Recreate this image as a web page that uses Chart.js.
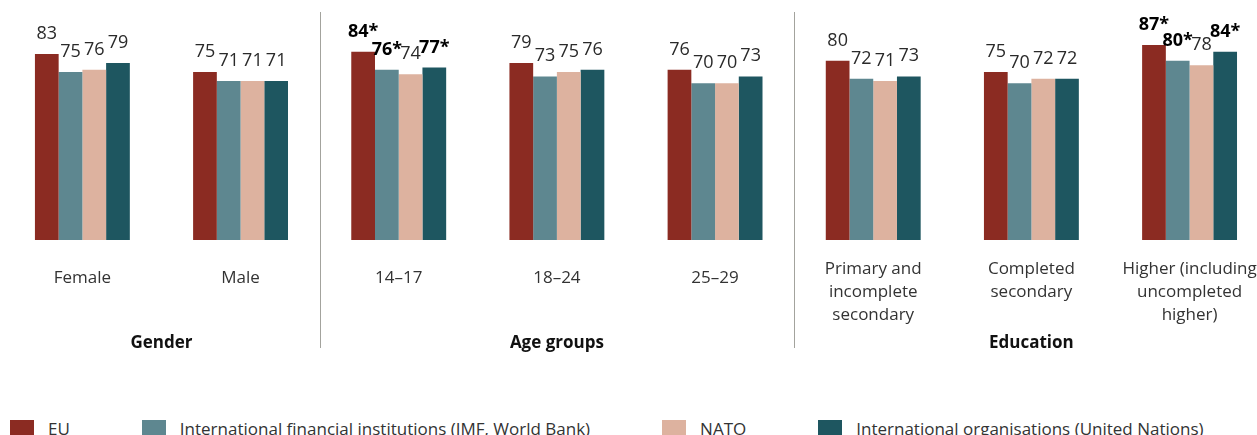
<!DOCTYPE html>
<html>
<head>
<meta charset="utf-8">
<script src="https://cdn.jsdelivr.net/npm/chart.js@4/dist/chart.umd.min.js"></script>
<style>
  html, body { margin: 0; padding: 0; background: #fff; overflow: hidden; }
  #wrap { position: relative; width: 1275px; height: 435px; }
  #legend { position: absolute; left: 10px; top: 417px; display: flex; white-space: nowrap;
            font: 17px "Open Sans", sans-serif; color: #333; }
  #legend .item { display: flex; align-items: center; margin-right: 72px; }
  #legend .box { width: 24px; height: 18px; margin-right: 14px; }
</style>
</head>
<body>
<div id="wrap">
  <canvas id="myChart" width="1275" height="405"></canvas>
  <div id="legend"></div>
</div>
<script>
// categories (multi-line labels as arrays)
const categories = [
  "Female", "Male",
  "14–17", "18–24", "25–29",
  ["Primary and", "incomplete", "secondary"],
  ["Completed", "secondary"],
  ["Higher (including", "uncompleted", "higher)"]
];
const groupNames = ["Gender", "Age groups", "Education"];
const groupSizes = [2, 3, 3];

const seriesNames = [
  "EU",
  "International financial institutions (IMF, World Bank)",
  "NATO",
  "International organisations (United Nations)"
];
const euValues   = [83, 75, 84, 79, 76, 80, 75, 87];
const ifiValues  = [75, 71, 76, 73, 70, 72, 70, 80];
const natoValues = [76, 71, 74, 75, 70, 71, 72, 78];
const unValues   = [79, 71, 77, 76, 73, 73, 72, 84];

// values marked with * (shown in bold)
const euSig   = [false, false, true, false, false, false, false, true];
const ifiSig  = [false, false, true, false, false, false, false, true];
const natoSig = [false, false, false, false, false, false, false, false];
const unSig   = [false, false, true, false, false, false, false, true];

const colors = ["#8b2b22", "#5e8790", "#ddb29f", "#1e5660"];
const significant = [euSig, ifiSig, natoSig, unSig];

// 막대 위 값 표시
const valueLabels = {
  id: "valueLabels",
  afterDatasetsDraw(chart) {
    const ctx = chart.ctx;
    chart.data.datasets.forEach((ds, i) => {
      const meta = chart.getDatasetMeta(i);
      meta.data.forEach((bar, j) => {
        const sig = significant[i][j];
        ctx.save();
        ctx.font = (sig ? "bold " : "") + '18px "Open Sans"';
        ctx.fillStyle = sig ? "#000" : "#2a2a2a";
        ctx.textAlign = "center";
        ctx.textBaseline = "alphabetic";
        ctx.fillText(ds.data[j] + (sig ? "*" : ""), bar.x, bar.y - 15);
        ctx.restore();
      });
    });
  }
};

// 그룹 제목 + 구분선
const groupLabels = {
  id: "groupLabels",
  afterDraw(chart) {
    const { ctx, chartArea, scales } = chart;
    const x = scales.x;
    let start = 0;
    ctx.save();
    groupNames.forEach((name, g) => {
      const end = start + groupSizes[g] - 1;
      const cx = (x.getPixelForValue(start) + x.getPixelForValue(end)) / 2;
      ctx.font = 'bold 17px "Open Sans"';
      ctx.fillStyle = "#111";
      ctx.textAlign = "center";
      ctx.textBaseline = "middle";
      ctx.fillText(name, cx, chartArea.bottom + 103);
      if (g > 0) {
        const sx = Math.round((x.getPixelForValue(start - 1) + x.getPixelForValue(start)) / 2) + 0.5;
        ctx.strokeStyle = "#a3a39d";
        ctx.lineWidth = 1;
        ctx.beginPath();
        ctx.moveTo(sx, chartArea.top - 4);
        ctx.lineTo(sx, chartArea.bottom + 108);
        ctx.stroke();
      }
      start += groupSizes[g];
    });
    ctx.restore();
  }
};

const allValues = [euValues, ifiValues, natoValues, unValues];

const chart = new Chart(document.getElementById("myChart").getContext("2d"), {
  type: "bar",
  data: {
    labels: categories,
    datasets: seriesNames.map((name, i) => ({
      label: name,
      data: allValues[i],
      backgroundColor: colors[i],
      borderWidth: 0,
      categoryPercentage: 0.6,
      barPercentage: 1.0
    }))
  },
  options: {
    responsive: false,
    animation: false,
    layout: { padding: { top: 16, left: 3.3, right: 4.3, bottom: 60 } },
    plugins: { legend: { display: false }, tooltip: { enabled: false } },
    scales: {
      x: {
        grid: { display: false, drawTicks: false },
        border: { display: false },
        ticks: {
          color: "#333",
          padding: 18,
          maxRotation: 0,
          autoSkip: false,
          font: (c) => ({
            family: "Open Sans",
            size: 17,
            lineHeight: Array.isArray(categories[c.index]) ? 1.353 : 2.4
          })
        }
      },
      y: { display: false, min: 0, max: 100 }
    }
  },
  plugins: [valueLabels, groupLabels]
});

// 범례 (HTML)
const legend = document.getElementById("legend");
seriesNames.forEach((name, i) => {
  const item = document.createElement("div");
  item.className = "item";
  const box = document.createElement("span");
  box.className = "box";
  box.style.background = colors[i];
  const text = document.createElement("span");
  text.textContent = name;
  item.appendChild(box);
  item.appendChild(text);
  legend.appendChild(item);
});
</script>
</body>
</html>
